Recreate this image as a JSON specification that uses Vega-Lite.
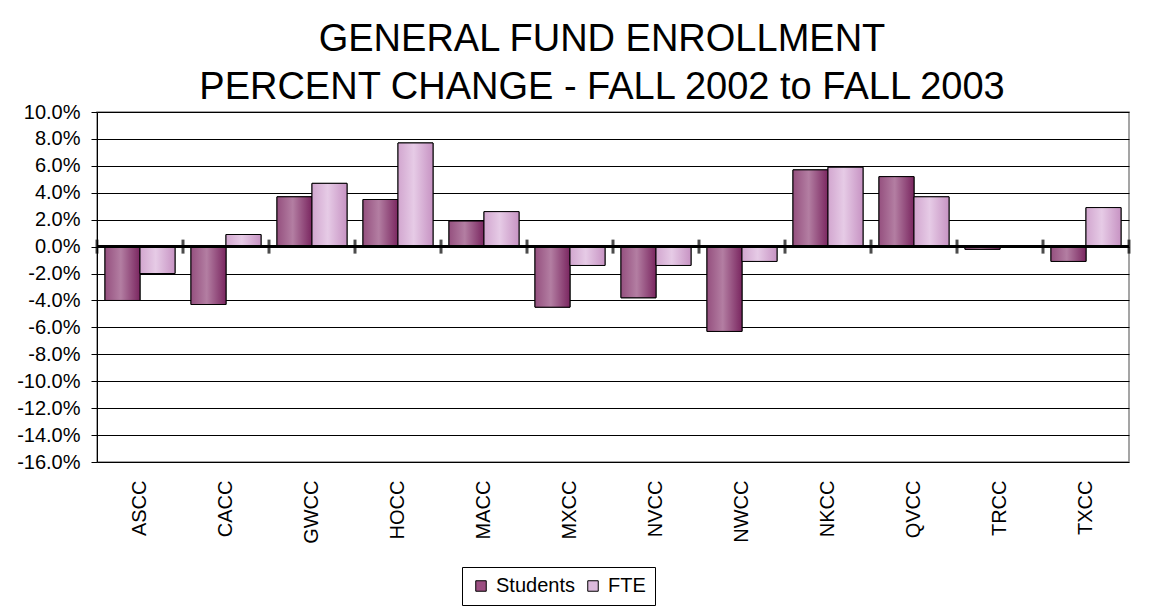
{
  "$schema": "https://vega.github.io/schema/vega-lite/v6.json",
  "width": 1032,
  "height": 350,
  "autosize": {"type": "none"},
  "padding": {"left": 97, "top": 112, "right": 22, "bottom": 149},
  "background": "white",
  "title": {
    "text": ["GENERAL FUND ENROLLMENT", "PERCENT CHANGE - FALL 2002 to FALL 2003"],
    "font": "Liberation Sans",
    "fontSize": 38,
    "fontWeight": "normal",
    "color": "black",
    "lineHeight": 48,
    "anchor": "middle",
    "dx": -11,
    "offset": -5
  },
  "config": {
    "font": "Liberation Sans",
    "view": {"stroke": "#888888", "strokeWidth": 1.5}
  },
  "datasets": {
    "bars": [
      {"college": "ASCC", "series": "Students", "change": -0.040},
      {"college": "ASCC", "series": "FTE", "change": -0.020},
      {"college": "CACC", "series": "Students", "change": -0.043},
      {"college": "CACC", "series": "FTE", "change": 0.009},
      {"college": "GWCC", "series": "Students", "change": 0.037},
      {"college": "GWCC", "series": "FTE", "change": 0.047},
      {"college": "HOCC", "series": "Students", "change": 0.035},
      {"college": "HOCC", "series": "FTE", "change": 0.077},
      {"college": "MACC", "series": "Students", "change": 0.019},
      {"college": "MACC", "series": "FTE", "change": 0.026},
      {"college": "MXCC", "series": "Students", "change": -0.045},
      {"college": "MXCC", "series": "FTE", "change": -0.014},
      {"college": "NVCC", "series": "Students", "change": -0.038},
      {"college": "NVCC", "series": "FTE", "change": -0.014},
      {"college": "NWCC", "series": "Students", "change": -0.063},
      {"college": "NWCC", "series": "FTE", "change": -0.011},
      {"college": "NKCC", "series": "Students", "change": 0.057},
      {"college": "NKCC", "series": "FTE", "change": 0.059},
      {"college": "QVCC", "series": "Students", "change": 0.052},
      {"college": "QVCC", "series": "FTE", "change": 0.037},
      {"college": "TRCC", "series": "Students", "change": -0.002},
      {"college": "TRCC", "series": "FTE", "change": 0.0},
      {"college": "TXCC", "series": "Students", "change": -0.011},
      {"college": "TXCC", "series": "FTE", "change": 0.029}
    ],
    "bounds": [
      {"b": 0}, {"b": 1}, {"b": 2}, {"b": 3}, {"b": 4}, {"b": 5}, {"b": 6},
      {"b": 7}, {"b": 8}, {"b": 9}, {"b": 10}, {"b": 11}, {"b": 12}
    ]
  },
  "layer": [
    {
      "data": {"name": "bars"},
      "encoding": {
        "x": {
          "field": "college",
          "type": "nominal",
          "sort": null,
          "scale": {"paddingInner": 0.186, "paddingOuter": 0.093},
          "axis": {
            "title": null,
            "labelAngle": -90,
            "labelFontSize": 20,
            "labelColor": "black",
            "labelPadding": 18,
            "ticks": false,
            "tickSize": 0,
            "domain": false,
            "grid": false
          }
        },
        "xOffset": {"field": "series", "type": "nominal", "scale": {"domain": ["Students", "FTE"], "paddingInner": 0}},
        "y": {
          "field": "change",
          "type": "quantitative",
          "scale": {"domain": [-0.16, 0.10], "nice": false, "zero": false},
          "axis": {
            "title": null,
            "values": [-0.16, -0.14, -0.12, -0.10, -0.08, -0.06, -0.04, -0.02, 0, 0.02, 0.04, 0.06, 0.08, 0.10],
            "labelExpr": "replace(format(datum.value, '.1%'), '\u2212', '-')",
            "labelOverlap": false,
            "labelFontSize": 20,
            "labelColor": "black",
            "labelPadding": 11,
            "tickSize": 6,
            "tickColor": "black",
            "domainColor": "black",
            "gridColor": "black",
            "gridWidth": 1,
            "gridOpacity": 1
          }
        }
      },
      "layer": [
        {
          "mark": {"type": "bar", "stroke": "black", "strokeWidth": 1},
          "encoding": {
            "color": {
              "field": "series",
              "type": "nominal",
              "scale": {"domain": ["Students", "FTE"], "range": ["#9c4f82", "#dcbadc"]},
              "legend": {
                "title": null,
                "orient": "none",
                "direction": "horizontal",
                "legendX": 365,
                "legendY": 455,
                "labelFontSize": 20,
                "labelColor": "black",
                "symbolType": "square",
                "symbolSize": 110,
                "symbolStrokeColor": "black",
                "symbolStrokeWidth": 1,
                "symbolOpacity": 1,
                "strokeColor": "black",
                "padding": 9,
                "columnPadding": 8,
                "labelOffset": 5
              }
            }
          }
        },
        {
          "transform": [{"filter": "datum.series === 'Students'"}],
          "mark": {
            "type": "bar", "stroke": "black", "strokeWidth": 1,
            "fill": {"gradient": "linear", "x1": 0, "y1": 0, "x2": 1, "y2": 0, "stops": [
              {"offset": 0, "color": "#95507f"},
              {"offset": 0.45, "color": "#b37ea2"},
              {"offset": 1, "color": "#7a2660"}
            ]}
          },
          "encoding": {}
        },
        {
          "transform": [{"filter": "datum.series === 'FTE'"}],
          "mark": {
            "type": "bar", "stroke": "black", "strokeWidth": 1,
            "fill": {"gradient": "linear", "x1": 0, "y1": 0, "x2": 1, "y2": 0, "stops": [
              {"offset": 0, "color": "#d2a6cf"},
              {"offset": 0.45, "color": "#e6cbe6"},
              {"offset": 1, "color": "#c793c3"}
            ]}
          },
          "encoding": {}
        }
      ]
    },
    {
      "data": {"values": [{"z": 0}]},
      "mark": {"type": "rule", "color": "black", "strokeWidth": 3},
      "encoding": {
        "y": {
          "field": "z",
          "type": "quantitative",
          "scale": {"domain": [-0.16, 0.10], "nice": false, "zero": false},
          "axis": {
            "title": null,
            "values": [-0.16, -0.14, -0.12, -0.10, -0.08, -0.06, -0.04, -0.02, 0, 0.02, 0.04, 0.06, 0.08, 0.10],
            "labelExpr": "replace(format(datum.value, '.1%'), '\u2212', '-')",
            "labelOverlap": false,
            "labelFontSize": 20,
            "labelColor": "black",
            "labelPadding": 11,
            "tickSize": 6,
            "tickColor": "black",
            "domainColor": "black",
            "gridColor": "black",
            "gridWidth": 1,
            "gridOpacity": 1
          }
        }
      }
    },
    {
      "data": {"name": "bounds"},
      "mark": {"type": "tick", "color": "black", "thickness": 3, "size": 14, "orient": "vertical"},
      "encoding": {
        "x": {"field": "b", "type": "quantitative", "scale": {"domain": [0, 12], "nice": false}, "axis": null},
        "y": {
          "datum": 0,
          "type": "quantitative",
          "scale": {"domain": [-0.16, 0.10], "nice": false, "zero": false},
          "axis": {
            "title": null,
            "values": [-0.16, -0.14, -0.12, -0.10, -0.08, -0.06, -0.04, -0.02, 0, 0.02, 0.04, 0.06, 0.08, 0.10],
            "labelExpr": "replace(format(datum.value, '.1%'), '\u2212', '-')",
            "labelOverlap": false,
            "labelFontSize": 20,
            "labelColor": "black",
            "labelPadding": 11,
            "tickSize": 6,
            "tickColor": "black",
            "domainColor": "black",
            "gridColor": "black",
            "gridWidth": 1,
            "gridOpacity": 1
          }
        }
      }
    }
  ],
  "resolve": {"scale": {"x": "independent"}}
}
